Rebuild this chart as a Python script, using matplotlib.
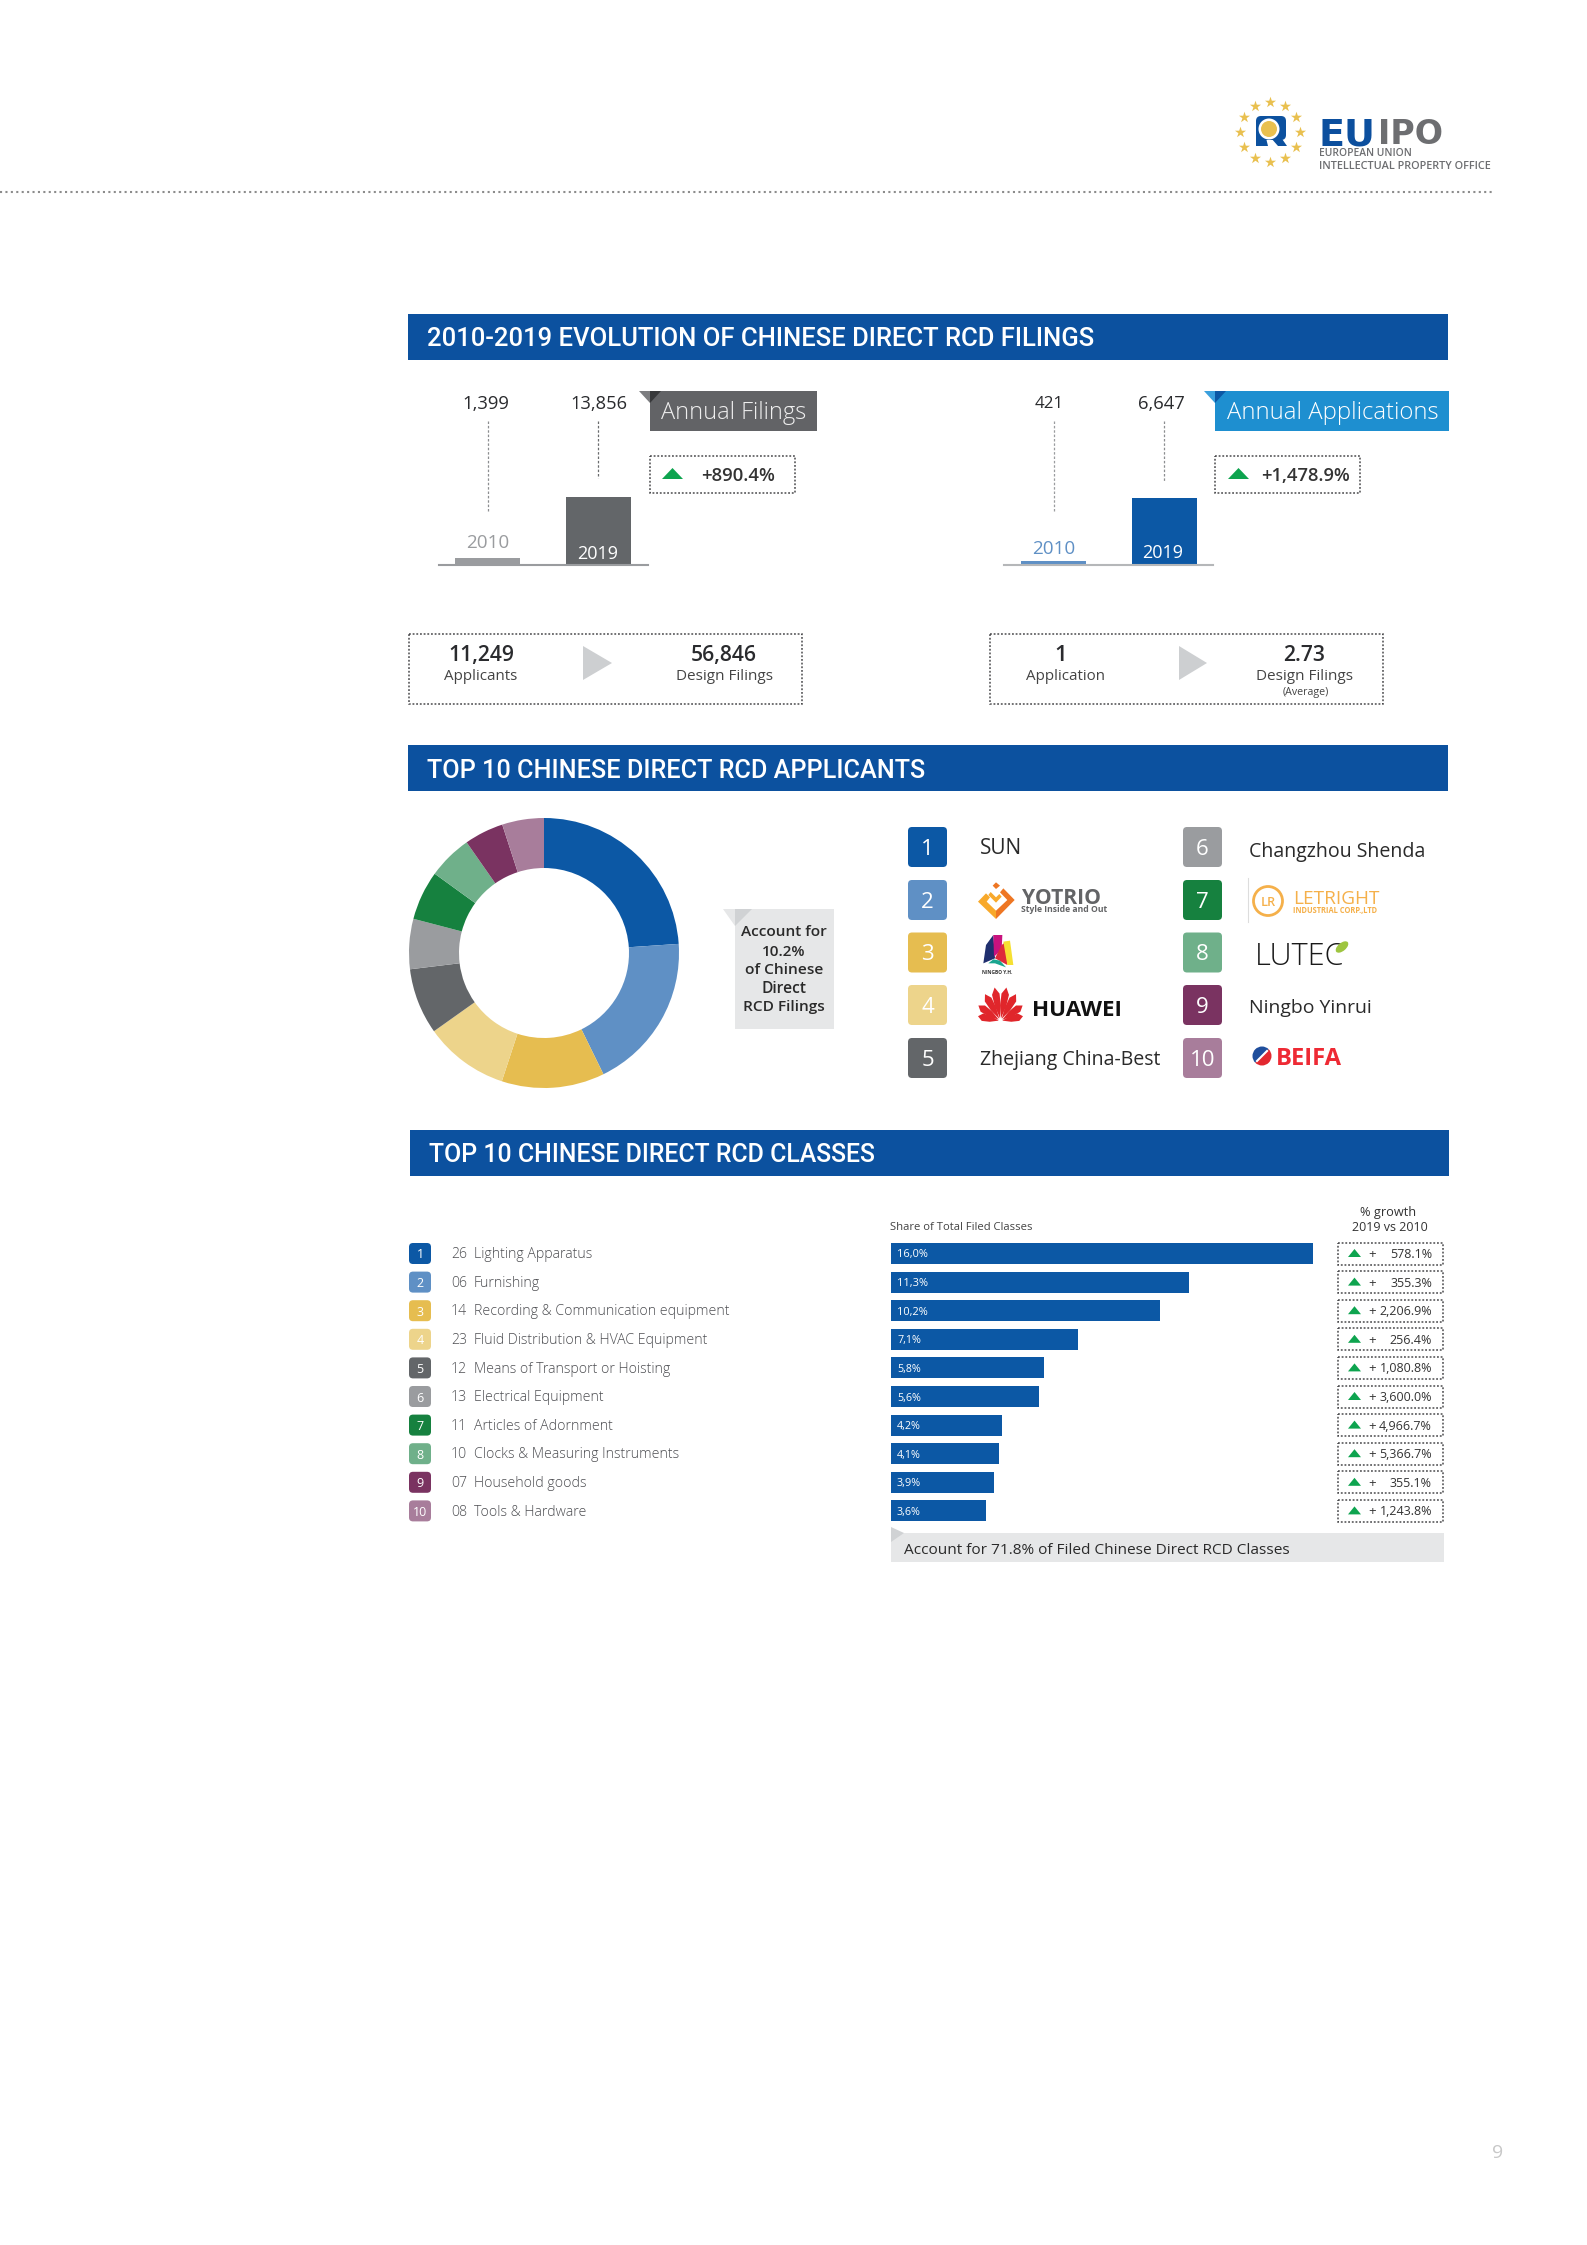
import matplotlib
matplotlib.use("Agg")
import matplotlib.pyplot as plt
from matplotlib.patches import Rectangle, Polygon, FancyBboxPatch, Circle, Ellipse, Wedge
import numpy as np

plt.rcParams['font.family'] = ['Open Sans', 'DejaVu Sans']

W, H = 1587, 2245

# ---------- data ----------
years = ["2010", "2019"]
annual_filings = [1399, 13856]
annual_applications = [421, 6647]
applicant_shares = [23.9, 18.8, 12.3, 10.1, 7.9, 6.0, 5.9, 5.3, 4.7, 5.0]
rank_colors = ["#0c58a5", "#5f90c5", "#e6bd50", "#edd48b", "#636669",
               "#9a9c9f", "#16813f", "#6fb08a", "#7a3361", "#a87d9b"]
class_codes = ["26", "06", "14", "23", "12", "13", "11", "10", "07", "08"]
class_names = ["Lighting Apparatus", "Furnishing", "Recording & Communication equipment",
               "Fluid Distribution & HVAC Equipment", "Means of Transport or Hoisting",
               "Electrical Equipment", "Articles of Adornment", "Clocks & Measuring Instruments",
               "Household goods", "Tools & Hardware"]
class_share = [16.0, 11.3, 10.2, 7.1, 5.8, 5.6, 4.2, 4.1, 3.9, 3.6]
class_growth = ["578.1%", "355.3%", "2,206.9%", "256.4%", "1,080.8%",
                "3,600.0%", "4,966.7%", "5,366.7%", "355.1%", "1,243.8%"]

BLUE = "#0c519f"
DARK = "#2a2b2e"
GREEN = "#0ea44f"
LGRAY = "#e6e7e8"

fig = plt.figure(figsize=(W / 100, H / 100), dpi=100, facecolor="white")
renderer = fig.canvas.get_renderer()


def ax_px(x0, y0, x1, y1, **kw):
    return fig.add_axes([x0 / W, 1 - y1 / H, (x1 - x0) / W, (y1 - y0) / H], **kw)


# overlay in page pixels
ov = fig.add_axes([0, 0, 1, 1], zorder=5)
ov.set_xlim(0, W)
ov.set_ylim(H, 0)
ov.axis("off")
ov.patch.set_alpha(0)


def T(x, y, s, size, color=DARK, ha="center", weight="normal", w=None, **kw):
    t = ov.text(x, y, s, fontsize=size, color=color, ha=ha, va="center_baseline",
                fontweight=weight, **kw)
    if w is not None:
        t.set_fontsize(size * w / t.get_window_extent(renderer).width)
    return t


def rect(x0, y0, x1, y1, c, z=1):
    ov.add_patch(Rectangle((x0, y0), x1 - x0, y1 - y0, fc=c, ec="none", zorder=z))


def dotted(x0, y0, x1, y1):
    ov.add_patch(Rectangle((x0, y0), x1 - x0, y1 - y0, fill=False, ec="#4a4a4d",
                           lw=1.1, ls=(0, (1.2, 1.2)), zorder=2))


def poly(pts, c, z=2):
    ov.add_patch(Polygon(pts, closed=True, fc=c, ec="none", zorder=z))


def zpoly(x0, y0, pts, c, z=2):
    poly([(x0 + a / 3, y0 + b / 3) for a, b in pts], c, z)


def badge(x0, y0, x1, y1, c, txt, size):
    r = 4
    ov.add_patch(FancyBboxPatch((x0 + r, y0 + r), x1 - x0 - 2 * r, y1 - y0 - 2 * r,
                                boxstyle=f"round,pad={r},rounding_size={r}", fc=c, ec="none", zorder=2))
    T((x0 + x1) / 2, (y0 + y1) / 2, txt, size, "white", zorder=3)


# ---------- logo and rule ----------
star_angles = np.deg2rad(np.arange(0, 360, 30))
ov.scatter(1270 + 30 * np.cos(star_angles), 132 + 30 * np.sin(star_angles), marker="*", s=70,
           c="#e9c04f", linewidths=0, zorder=2)
ov.add_patch(FancyBboxPatch((1259, 119), 24, 18, boxstyle="round,pad=3,rounding_size=5",
                            fc=BLUE, ec="none", zorder=2))
poly([(1256, 130), (1264, 130), (1268, 146), (1256, 146)], BLUE)
poly([(1271, 138), (1280, 136), (1287, 146), (1278, 146)], BLUE)
ov.add_patch(Circle((1269, 129), 10.5, fc="white", ec="none", zorder=3))
ov.add_patch(Circle((1269, 129), 8, fc="#e9c04f", ec="none", zorder=4))
T(1318, 131, "EU", 27, "#0c4f9e", ha="left", weight="bold", w=57, family="DejaVu Sans")
T(1378, 131, "IPO", 27, "#6d6e71", ha="left", weight="bold", w=65, family="DejaVu Sans")
T(1319, 152, "EUROPEAN UNION", 6.5, "#6d6e71", ha="left", w=92, weight="semibold")
T(1319, 165, "INTELLECTUAL PROPERTY OFFICE", 6.5, "#6d6e71", ha="left", w=172, weight="semibold")
ov.plot([0, 1492], [192, 192], color="#8c8c8c", lw=1.5, ls=(0, (1, 1.6)))

# ---------- section headers ----------
for (x0, y0, x1, y1, tx, tw, s) in [
    (408, 314, 1448, 360, 427, 667, "2010-2019 EVOLUTION OF CHINESE DIRECT RCD FILINGS"),
    (408, 745, 1448, 791, 427, 497, "TOP 10 CHINESE DIRECT RCD APPLICANTS"),
    (410, 1130, 1449, 1176, 429, 447, "TOP 10 CHINESE DIRECT RCD CLASSES"),
]:
    rect(x0, y0, x1, y1, BLUE)
    T(tx, (y0 + y1) / 2, s, 20, "white", ha="left", weight="medium", w=tw, zorder=3,
      family=["Roboto", "Open Sans"])

# ---------- evolution bars ----------
step = 111
for (x0, x1, top, c0, vals, cols, base) in [
    (439, 648, 497, 48.5, annual_filings, ["#9a9c9f", "#636669"], "#9a9c9f"),
    (1004, 1213, 498, 49.5, annual_applications, ["#5f90c5", "#0c58a5"], "#b5b7b9"),
]:
    a = ax_px(x0, top, x1, 565)
    a.bar([0, 1], vals, width=65 / step, color=cols, linewidth=0)
    a.set_xlim(-c0 / step, (x1 - x0 - c0) / step)
    a.set_ylim(0, max(vals))
    for sp in ("top", "left", "right"):
        a.spines[sp].set_visible(False)
    a.spines["bottom"].set_color(base)
    a.spines["bottom"].set_linewidth(1.5)
    a.set_xticks([])
    a.set_yticks([])
    a.patch.set_alpha(0)

T(486, 402, f"{annual_filings[0]:,}", 14, w=47)
T(598.5, 402, f"{annual_filings[1]:,}", 14, w=57)
T(1049, 402, f"{annual_applications[0]:,}", 14, w=29)
T(1161, 402, f"{annual_applications[1]:,}", 14, w=47)
for (x, y0, y1, c) in [(488, 421, 512, "#8c8e90"), (598, 421, 478, "#6a6c6e"),
                       (1054, 421, 512, "#9a9c9f"), (1164, 421, 481, "#8c8e90")]:
    ov.plot([x, x], [y0, y1], color=c, lw=0.9, ls=(0, (2, 1.5)))
T(488, 541, years[0], 13, "#9a9c9f", w=43)
T(598, 552, years[1], 13, "white", w=41)
T(1054, 547, years[0], 13, "#5f90c5", w=43)
T(1163, 551, years[1], 13, "white", w=41)

# flags
rect(650, 391, 817, 431, "#626366")
poly([(639, 391), (650, 391), (650, 403)], "#7c7d80")
poly([(650, 391), (661, 391), (650, 403)], "#37383a")
T(734, 410, "Annual Filings", 16, "#eeeeee", w=146, weight="light")
rect(1215, 391, 1449, 431, "#1e8fd0")
poly([(1204, 391), (1215, 391), (1215, 403)], "#3aa0dd")
poly([(1215, 391), (1226, 391), (1215, 403)], "#0c58a5")
T(1333, 410, "Annual Applications", 16, "white", w=212, weight="light")

# growth boxes
dotted(650, 456, 795, 493)
poly([(662, 479), (683, 479), (672.5, 468)], GREEN)
T(738, 474, "+890.4%", 14, "#333", weight="semibold", w=74)
dotted(1215, 456, 1360, 493)
poly([(1228, 479), (1249, 479), (1238.5, 468)], GREEN)
T(1305, 474, "+1,478.9%", 14, "#333", weight="semibold", w=89)

# ratio boxes
dotted(409, 634, 802, 704)
dotted(990, 634, 1383, 704)
for (x0, x1) in [(583, 612), (1179, 1207)]:
    poly([(x0, 646), (x1, 663), (x0, 680)], "#cdcfd1")
T(481, 653, "11,249", 16, weight="semibold", w=66)
T(481, 675, "Applicants", 11, "#444", w=73)
T(724, 653, "56,846", 16, weight="semibold", w=66)
T(724, 675, "Design Filings", 11, "#444", w=97)
T(1061, 653, "1", 16, weight="semibold")
T(1065, 675, "Application", 11, "#444", w=79)
T(1304, 653, "2.73", 16, weight="semibold", w=42)
T(1304, 675, "Design Filings", 11, "#444", w=97)
T(1306, 691, "(Average)", 7.5, "#444", w=46)

# ---------- donut ----------
d = ax_px(544 - 135, 953 - 135, 544 + 135, 953 + 135)
d.pie(applicant_shares, colors=rank_colors, startangle=90, counterclock=False, radius=1,
      wedgeprops=dict(width=50 / 135, linewidth=0))
d.set_xlim(-1, 1)
d.set_ylim(-1, 1)

# callout
rect(735, 909, 834, 1029, LGRAY)
poly([(722.5, 909), (735, 909), (735, 926)], LGRAY)
poly([(735, 909), (752, 909), (735, 926)], "#d0d2d4")
for y, s, w in zip([931, 950, 968, 987, 1005],
                   ["Account for", "10.2%", "of Chinese", "Direct", "RCD Filings"],
                   [86, 43.5, 78, 45, 82]):
    T(784, y, s, 11.5, "#2a2a2a", weight="semibold", w=w)

# rank badges
ys = [847, 900, 952.5, 1005, 1058]
for i in range(5):
    badge(908, ys[i] - 20, 947, ys[i] + 20, rank_colors[i], str(i + 1), 16)
    badge(1183, ys[i] - 20, 1222, ys[i] + 20, rank_colors[i + 5], str(i + 6), 16)

T(980, 846, "SUN", 14, "#2a2a2a", ha="left", w=42)
T(980, 1058, "Zhejiang China-Best", 14, "#2a2a2a", ha="left", w=181)
T(1249, 849, "Changzhou Shenda", 14, "#2a2a2a", ha="left", w=177)
T(1249, 1006, "Ningbo Yinrui", 14, "#2a2a2a", ha="left", w=123)

# Yotrio
OX, OY = 970, 870
zpoly(OX, OY, [(24, 95), (48, 70), (60, 82), (50, 95), (78, 122), (78, 147)], "#f8a92b")
zpoly(OX, OY, [(78, 147), (134, 90), (100, 55), (90, 67), (112, 90), (78, 122)], "#ee7623")
zpoly(OX, OY, [(62, 66), (78, 82), (88, 72), (95, 80), (78, 98), (55, 75)], "#f8a92b")
zpoly(OX, OY, [(78, 37), (90, 47), (78, 57), (68, 47)], "#ee7623")
T(1022, 896, "YOTRIO", 14, "#636466", ha="left", weight="bold", w=79)
T(1021, 909, "Style Inside and Out", 6, "#636466", ha="left", weight="bold", w=86)

# Ningbo
zpoly(OX, OY, [(40, 280), (48, 225), (70, 195), (75, 265)], "#1f2f6e")
zpoly(OX, OY, [(70, 195), (97, 195), (95, 240), (72, 260)], "#c8127e")
zpoly(OX, OY, [(75, 265), (95, 225), (108, 215), (112, 285)], "#de2a3a")
zpoly(OX, OY, [(100, 215), (120, 212), (130, 285), (112, 285)], "#f6e032")
zpoly(OX, OY, [(55, 280), (70, 268), (90, 272), (108, 292), (75, 280)], "#19a58f")
T(997.5, 972, "NINGBO Y.H.", 4, "#333", weight="bold", w=31)

# Huawei
HX, HY = 1000.5, 1021
for ang, ln in zip([-78, -55, -30, -10, 10, 30, 55, 78], [23, 27, 31, 34, 34, 31, 27, 23]):
    rad = np.deg2rad(ang)
    ux, uy = np.sin(rad), -np.cos(rad)
    px, py = -uy, ux
    pts = [(HX + ux * ln * t + px * s, HY + uy * ln * t + py * s)
           for t, s in [(0.08, 0), (0.45, 3), (0.8, 3.8), (1.0, 0), (0.8, -3.8), (0.45, -3)]]
    poly(pts, "#e0262b")
T(1032, 1008, "HUAWEI", 15, "#111", ha="left", weight="bold", w=90)

# Letright
ov.plot([1248, 1248], [878, 922], color="#dddddd", lw=0.8)
ov.add_patch(Circle((1268, 901), 14.5, fill=False, ec="#f5b04a", lw=2, zorder=2))
T(1268, 901, "LR", 10, "#f5b04a", weight="semibold", w=15)
T(1293, 897, "LETRIGHT", 13, "#f5b04a", ha="left", w=86)
T(1293, 909, "INDUSTRIAL CORP.,LTD", 5, "#f5b04a", ha="left", weight="bold", w=86)

# Lutec
T(1255, 953, "LUTEC", 23, "#1a1a1a", ha="left", weight="light", w=90)
ov.add_patch(Ellipse((1342, 947), 8, 15, angle=50, fc="#9ec540", ec="none", zorder=3))

# Beifa
ov.add_patch(Wedge((1262, 1056), 9.5, 135, 315, fc="#1f4e9c", ec="none", zorder=2))
ov.add_patch(Wedge((1262, 1056), 9.5, -45, 135, fc="#e2282f", ec="none", zorder=2))
ov.plot([1257, 1267], [1061, 1051], color="white", lw=1.5, zorder=3)
T(1276, 1056, "BEIFA", 15, "#ee2a34", ha="left", weight="bold", w=66)

# ---------- classes ----------
row_y = [1253.5 + 28.6 * i for i in range(10)]
b = ax_px(891, row_y[0] - 14.3, 891 + 16 * 26.4, row_y[-1] + 14.3)
b.barh(range(10), class_share, height=21 / 28.6, color="#0c58a5", linewidth=0)
b.set_xlim(0, 16)
b.set_ylim(9.5, -0.5)
b.axis("off")

for i in range(10):
    y = row_y[i]
    badge(409, y - 10.5, 431, y + 10.5, rank_colors[i], str(i + 1), 9)
    T(451, y - 0.8, class_codes[i], 10.2, "#4e4f53", ha="left", weight="light")
    T(474, y - 0.8, class_names[i], 10.2, "#4e4f53", ha="left", weight="light")
    T(897, y, f"{class_share[i]:.1f}%".replace(".", ","), 8, "white", ha="left", w=31 if i < 3 else 24)
    dotted(1338, y - 11, 1443, y + 11)
    poly([(1348, y + 3.5), (1361, y + 3.5), (1354.5, y - 4.5)], GREEN)
    T(1372, y - 0.5, "+", 9.5, "#333")
    T(1432, y - 0.5, class_growth[i], 9, "#333", ha="right")

T(890, 1226, "Share of Total Filed Classes", 9, "#444", ha="left", w=143)
T(1388, 1211, "% growth", 9, "#333", w=56)
T(1390, 1226, "2019 vs 2010", 9, "#333", w=76)

rect(891, 1533, 1444, 1562, LGRAY)
poly([(891, 1527), (904, 1533), (891, 1542)], "#d0d2d4")
T(904, 1548, "Account for 71.8% of Filed Chinese Direct RCD Classes", 12, "#2a2a2a", ha="left", w=385)

T(1498, 2151, "9", 14, "#c8c8c8")

fig.savefig("out.png", dpi=100, facecolor="white")
